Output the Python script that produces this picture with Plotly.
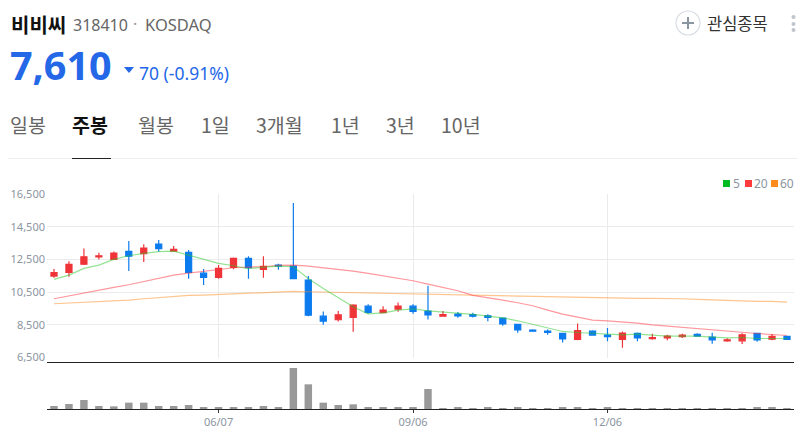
import pandas as pd
import plotly.graph_objects as go

W, H = 805, 438
KR = "Noto Sans CJK KR"
LAT = "Noto Sans"

weeks = pd.date_range("2021-03-22", periods=50, freq="7D")
opens = [11480,11700,12210,12660,12500,12990,12850,13440,13010,12930,11660,11400,12010,12560,11890,12150,12090,11240,9030,8810,
         8950,9640,9240,9460,9640,9340,9030,9150,9130,9050,8910,8520,8170,8110,7970,7600,8110,7870,7600,7970,
         7660,7700,7770,7910,7750,7520,7520,7970,7620,7790]
highs = [11910,12380,13170,12910,12990,13620,13420,13680,13320,13070,11910,12150,12620,12700,12700,12240,15950,11480,9320,9340,
         9750,9750,9640,9870,9750,10890,9340,9280,9240,9150,8910,8540,8230,8210,7970,8580,8170,8300,8090,8030,
         7950,7890,7950,7990,8010,7680,7990,7990,7930,7810]
lows = [11380,11440,12150,12500,12460,11790,12340,12970,12970,11320,10930,11320,11890,11320,11380,11870,11320,9030,8500,8700,
        8070,9170,9240,9300,9170,8830,9010,8930,8950,8720,8440,8010,8070,7890,7420,7560,7830,7500,7090,7500,
        7580,7560,7700,7770,7340,7460,7320,7460,7560,7610]
closes = [11700,12190,12660,12720,12890,12700,13190,13150,13110,11700,11400,11950,12560,11990,12070,12090,11320,9090,8720,9110,
          9700,9260,9400,9640,9320,9110,9130,9050,9030,8950,8560,8190,8110,8030,7640,8150,7870,7770,7990,7700,
          7720,7810,7870,7810,7580,7580,7890,7580,7790,7610]
ma5 = [11275,11541,11949,12153,12500,12725,12868,12970,13010,12766,12500,12255,12112,11929,12031,12092,12051,11330,10724,10153,
       9602,9173,9235,9398,9480,9357,9296,9235,9133,9030,8928,8745,8541,8316,8092,8030,7969,7908,7887,7928,
       7847,7806,7806,7806,7745,7704,7724,7663,7663,7663]
ma20 = [10092,10276,10459,10623,10786,10949,11133,11337,11541,11663,11786,11908,11990,12031,12051,12133,12153,12092,11990,11908,
        11786,11643,11500,11357,11194,10990,10786,10581,10296,10173,10010,9847,9663,9398,9153,8969,8785,8745,8683,8602,
        8500,8418,8337,8255,8173,8112,8051,7969,7908,7847]
ma60 = [9786,9826,9888,9929,9969,10010,10092,10173,10255,10296,10316,10357,10398,10459,10500,10541,10541,10520,10500,10480,
        10459,10439,10418,10398,10398,10378,10357,10337,10316,10296,10276,10255,10235,10235,10214,10194,10173,10133,10112,10112,
        10112,10112,10092,10051,10010,9990,9969,9929,9929,9888]
volumes = [9,15,27,9,8,19,19,9,9,12,4,4,4,4,9,5,123,74,19,12,14,6,6,6,5,60,3,4,3,4,3,4,3,3,5,4,3,4,3,3,3,3,3,3,3,1,3,4,4,3]
y_ticks = [6500,8500,10500,12500,14500,16500]
x_tick_dates = ["2021-06-07","2021-09-06","2021-12-06"]
x_tick_labels = ["06/07","09/06","12/06"]
tabs = [("일봉",10),("주봉",72),("월봉",138),("1일",201),("3개월",256),("1년",331),("3년",386),("10년",441)]
legend_items = [("5","#00BB22",723,733),("20","#FF3B3B",745,754),("60","#FF8A1E",771,780)]

def px(x): return x / W
def py(y): return 1 - y / H

week_ms = pd.Timedelta(days=7)
x_left = weeks[0] - week_ms * (7 / 14.96)
x_right = weeks[-1] + week_ms * (7 / 14.96)

fig = go.Figure()
for vals, col in ((ma60, "rgba(255,140,30,0.5)"), (ma20, "rgba(255,50,60,0.5)"), (ma5, "rgba(40,200,40,0.5)")):
    fig.add_trace(go.Scatter(x=weeks, y=vals, mode="lines", line=dict(color=col, width=1.2), xaxis="x", yaxis="y", showlegend=False))
fig.add_trace(go.Candlestick(
    x=weeks, open=opens, high=highs, low=lows, close=closes, xaxis="x", yaxis="y", whiskerwidth=0, showlegend=False,
    increasing=dict(line=dict(color="#EF3439", width=1.2), fillcolor="#EF3439"),
    decreasing=dict(line=dict(color="#0B7BEE", width=1.2), fillcolor="#0B7BEE")))
fig.add_trace(go.Bar(x=weeks, y=volumes, marker=dict(color="#999999", line=dict(width=0)), xaxis="x2", yaxis="y2", showlegend=False))

ann = []
def text(s, x, y, size, color, font=KR, anchor="left", bold=False):
    t = f"<b>{s}</b>" if bold else s
    ann.append(dict(text=t, x=px(x), y=py(y), xref="paper", yref="paper", xanchor=anchor, yanchor="middle",
                    showarrow=False, font=dict(size=size, color=color, family=font), borderpad=0, borderwidth=0))

text("비비씨", 11, 24, 20, "#111111", bold=True)
text("318410", 73, 25, 16, "#666666", LAT)
text("·", 133, 24, 16, "#999999", LAT)
text("KOSDAQ", 145, 25, 16.5, "#666666", LAT)
text("7,610", 10, 65, 39.5, "#2468E8", LAT, bold=True)
text("70 (-0.91%)", 139, 73, 17.5, "#2468E8", LAT)
for name, x in tabs:
    on = name == "주봉"
    text(name, x, 125, 19.5, "#111111" if on else "#666666", bold=on)
text("관심종목", 707, 23, 16.5, "#333333")
for name, fill, sx, tx in legend_items:
    text(name, tx, 183, 12, "#8B95A1", LAT)

shapes = []
def rect(x0, y0, x1, y1, fill):
    shapes.append(dict(type="rect", xref="paper", yref="paper", x0=px(x0), x1=px(x1), y0=py(y0), y1=py(y1),
                       fillcolor=fill, line=dict(width=0), layer="above"))
def line(x0, y0, x1, y1, color, width=1):
    shapes.append(dict(type="line", xref="paper", yref="paper", x0=px(x0), x1=px(x1), y0=py(y0), y1=py(y1),
                       line=dict(color=color, width=width), layer="above"))
for name, fill, sx, tx in legend_items:
    rect(sx, 180, sx + 7, 187, fill)
line(8, 158.5, 797, 158.5, "#EFEFEF")
line(72, 158.5, 111, 158.5, "#222222")
line(47, 362.5, 794, 362.5, "#222222", 1)
shapes.append(dict(type="path", xref="paper", yref="paper",
                   path=f"M {px(124)} {py(67)} L {px(134)} {py(67)} L {px(129)} {py(73)} Z",
                   fillcolor="#2468E8", line=dict(width=0)))
shapes.append(dict(type="circle", xref="paper", yref="paper", x0=px(676), x1=px(700), y0=py(35), y1=py(11),
                   line=dict(color="#D9DDE3", width=1.2), fillcolor="white"))
line(682, 23, 694, 23, "#8B95A1", 2)
line(688, 17, 688, 29, "#8B95A1", 2)
for dy in (17, 24, 30):
    shapes.append(dict(type="circle", xref="paper", yref="paper", x0=px(791.5), x1=px(795.5), y0=py(dy + 2), y1=py(dy - 2),
                       fillcolor="#BFC5CC", line=dict(width=0)))

fig.update_layout(
    template="none",
    width=W, height=H, margin=dict(l=0, r=0, t=0, b=0, pad=0), paper_bgcolor="white", plot_bgcolor="white",
    font=dict(family=LAT, color="#8B95A1", size=12), boxgap=0.42, bargap=0.5, showlegend=False, hovermode=False,
    annotations=ann, shapes=shapes,
    xaxis=dict(domain=[px(47), px(794)], range=[x_left, x_right], anchor="y", rangeslider=dict(visible=False), automargin=False,
               showticklabels=False, tickmode="array", tickvals=x_tick_dates, showgrid=True, gridcolor="#EBEBEB", gridwidth=1,
               ticks="", zeroline=False, showline=False),
    yaxis=dict(domain=[py(357.5), py(194)], range=[6500, 16500], tickmode="array", tickvals=y_ticks, tickformat=",", automargin=False,
               showgrid=True, gridcolor="#EBEBEB", gridwidth=1, zeroline=False, showline=False, ticks="", anchor="x",
               tickfont=dict(size=11, color="#8B95A1", family=LAT), ticklabelstandoff=1),
    xaxis2=dict(domain=[px(47), px(794)], range=[x_left, x_right], anchor="y2", matches="x", tickmode="array", automargin=False,
                tickvals=x_tick_dates, ticktext=x_tick_labels, ticks="outside", ticklen=3, tickcolor="#333333", tickwidth=1,
                showline=True, linecolor="#222222", linewidth=1, showgrid=False, zeroline=False,
                tickfont=dict(size=11, color="#8B95A1", family=LAT)),
    yaxis2=dict(domain=[py(409), py(368)], range=[0, 123], showticklabels=False, showgrid=False, zeroline=False, ticks="", anchor="x2", automargin=False),
)
fig.write_html("out.html", config=dict(displayModeBar=False),
               post_script="document.body.style.margin='0';")
